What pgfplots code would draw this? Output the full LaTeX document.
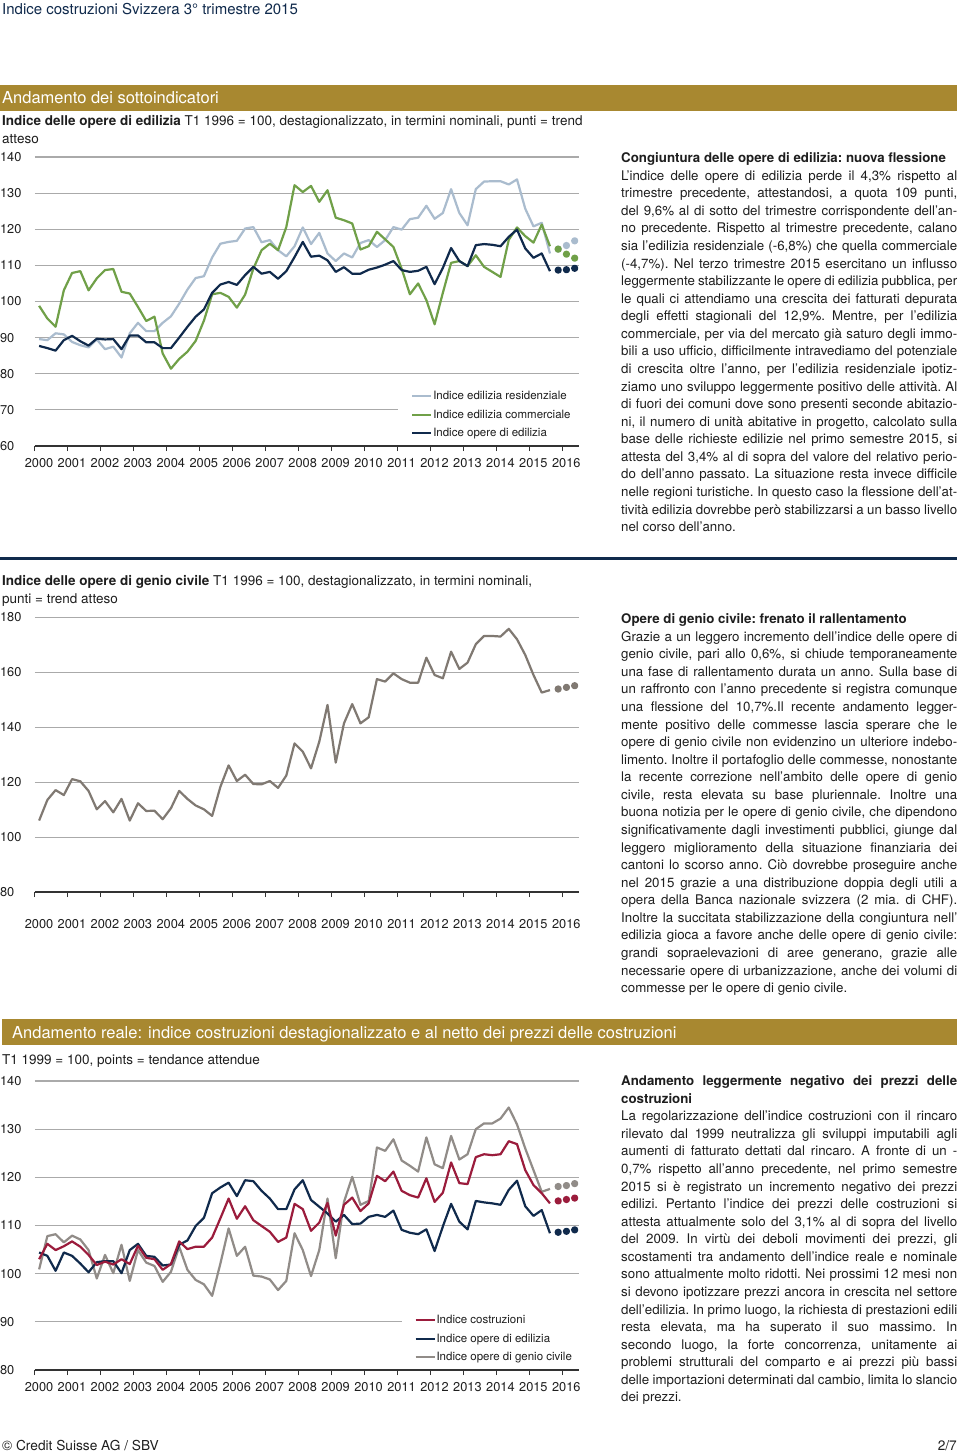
\documentclass[border=0pt]{standalone}
\usepackage{pgfplots}
\pgfplotsset{compat=1.18}
\usepackage{pgfplotstable}
\usepackage{fontspec}
\setmainfont{TeX Gyre Heros}
\definecolor{navy}{RGB}{16,42,76}
\definecolor{resi}{RGB}{170,188,206}
\definecolor{comm}{RGB}{112,160,72}
\definecolor{cred}{RGB}{155,28,60}
\definecolor{civ}{RGB}{128,121,114}
\definecolor{civb}{RGB}{145,140,136}
\definecolor{gold}{RGB}{168,136,48}
\definecolor{gridc}{RGB}{170,170,170}
\definecolor{txt}{RGB}{30,30,30}

\pgfplotstableread{
t res com edi
2000.125 89.6 98.8 87.7
2000.375 89.3 95.3 87.1
2000.625 91.2 93.0 86.4
2000.875 90.9 103.1 89.3
2001.125 88.8 107.9 90.5
2001.375 87.9 108.4 89.0
2001.625 87.3 103.1 87.8
2001.875 89.5 106.4 89.7
2002.125 86.8 108.7 89.5
2002.375 87.5 109.0 89.6
2002.625 84.5 102.7 86.8
2002.875 91.2 102.2 90.6
2003.125 94.1 98.5 90.6
2003.375 91.8 94.6 88.7
2003.625 91.8 95.8 88.7
2003.875 94.1 85.6 87.1
2004.125 95.9 81.4 87.1
2004.375 99.4 84.1 90.0
2004.625 103.3 86.1 93.0
2004.875 106.5 89.1 95.8
2005.125 107.0 94.7 97.8
2005.375 112.2 102.0 102.4
2005.625 116.0 102.4 104.7
2005.875 116.5 101.3 105.4
2006.125 116.8 98.3 104.6
2006.375 120.2 101.9 107.3
2006.625 120.6 109.1 109.6
2006.875 116.4 114.2 107.7
2007.125 117.0 116.0 108.2
2007.375 114.2 114.2 106.3
2007.625 112.5 120.6 108.4
2007.875 115.3 132.2 112.3
2008.125 120.5 130.3 116.5
2008.375 115.9 132.0 112.4
2008.625 119.0 127.6 112.7
2008.875 113.3 130.8 111.4
2009.125 111.2 123.2 108.2
2009.375 113.3 122.5 109.5
2009.625 112.2 121.6 107.7
2009.875 116.2 114.4 107.7
2010.125 117.0 115.3 108.8
2010.375 115.1 119.3 109.4
2010.625 117.0 117.2 110.2
2010.875 120.6 115.1 111.2
2011.125 119.9 109.1 108.7
2011.375 122.8 102.0 108.2
2011.625 123.2 105.0 108.5
2011.875 126.5 100.4 109.6
2012.125 122.9 93.7 104.8
2012.375 124.5 102.4 109.3
2012.625 131.1 110.7 114.8
2012.875 124.5 111.2 111.2
2013.125 121.1 109.8 109.8
2013.375 131.1 112.8 115.6
2013.625 133.2 109.6 115.9
2013.875 133.3 108.2 115.7
2014.125 133.3 106.8 115.3
2014.375 132.4 117.1 117.9
2014.625 133.8 120.5 119.9
2014.875 125.7 118.1 114.7
2015.125 120.8 116.3 112.1
2015.375 121.8 121.3 113.3
2015.625 113.3 115.3 108.4
}\tabA
\pgfplotstableread{
t res com edi
2015.875 114.5 114.5 108.7
2016.125 115.5 113.1 108.8
2016.375 116.8 112.0 109.2
}\tabAt

\pgfplotstableread{
t gen
2000.125 106.0
2000.375 113.5
2000.625 117.1
2000.875 115.3
2001.125 121.1
2001.375 120.3
2001.625 116.8
2001.875 110.1
2002.125 113.1
2002.375 109.0
2002.625 113.9
2002.875 106.0
2003.125 112.3
2003.375 109.5
2003.625 109.6
2003.875 106.5
2004.125 110.5
2004.375 116.8
2004.625 113.9
2004.875 111.5
2005.125 110.1
2005.375 107.7
2005.625 118.3
2005.875 126.1
2006.125 120.4
2006.375 122.7
2006.625 119.3
2006.875 119.2
2007.125 120.4
2007.375 117.9
2007.625 122.4
2007.875 134.1
2008.125 131.1
2008.375 125.0
2008.625 134.7
2008.875 148.1
2009.125 127.1
2009.375 141.4
2009.625 148.4
2009.875 141.4
2010.125 143.6
2010.375 157.5
2010.625 156.6
2010.875 159.6
2011.125 157.5
2011.375 156.2
2011.625 156.2
2011.875 165.3
2012.125 159.0
2012.375 157.8
2012.625 167.5
2012.875 161.2
2013.125 163.5
2013.375 170.2
2013.625 173.2
2013.875 173.2
2014.125 173.0
2014.375 175.8
2014.625 172.0
2014.875 166.3
2015.125 159.0
2015.375 152.6
2015.625 153.5
}\tabB
\pgfplotstableread{
t gen
2015.875 153.9
2016.125 154.5
2016.375 155.1
}\tabBt

\pgfplotstableread{
t cos edi gen
2000.125 103.0 104.4 100.9
2000.375 106.2 103.7 107.8
2000.625 104.9 100.6 108.2
2000.875 105.7 104.4 106.5
2001.125 106.7 103.7 107.9
2001.375 105.6 102.1 107.1
2001.625 103.9 100.3 104.9
2001.875 101.8 102.4 99.0
2002.125 102.5 102.6 103.9
2002.375 101.9 102.6 100.1
2002.625 103.0 100.1 106.0
2002.875 102.0 104.9 98.5
2003.125 105.8 106.2 104.9
2003.375 103.3 103.7 102.3
2003.625 103.0 103.5 101.6
2003.875 100.8 101.7 98.3
2004.125 102.0 101.9 100.4
2004.375 106.7 106.0 105.6
2004.625 105.1 106.9 100.8
2004.875 105.6 109.9 98.7
2005.125 105.6 111.6 97.8
2005.375 107.5 116.7 95.4
2005.625 111.5 117.9 102.1
2005.875 115.6 118.9 109.4
2006.125 111.4 116.1 103.7
2006.375 114.0 119.4 105.6
2006.625 111.1 119.2 99.6
2006.875 109.9 117.2 99.4
2007.125 108.7 115.6 98.8
2007.375 106.6 113.4 96.6
2007.625 107.5 113.4 98.5
2007.875 114.5 117.5 108.4
2008.125 113.4 119.4 104.9
2008.375 108.9 115.3 99.5
2008.625 110.6 113.9 104.9
2008.875 114.7 112.5 115.6
2009.125 107.9 110.8 103.2
2009.375 114.3 112.2 114.9
2009.625 115.8 110.3 120.1
2009.875 113.0 110.4 114.3
2010.125 114.6 111.8 115.1
2010.375 120.3 112.2 126.2
2010.625 119.2 111.8 125.5
2010.875 121.2 113.1 127.9
2011.125 117.2 109.1 123.5
2011.375 116.3 108.5 122.4
2011.625 115.8 108.2 121.2
2011.875 119.8 109.2 128.3
2012.125 114.9 104.7 122.7
2012.375 116.8 109.8 121.9
2012.625 123.1 114.5 128.6
2012.875 118.8 110.8 123.7
2013.125 118.6 109.2 124.8
2013.375 124.2 115.1 130.0
2013.625 124.8 114.8 131.2
2013.875 124.6 114.6 131.2
2014.125 124.8 114.3 132.2
2014.375 127.5 117.4 134.5
2014.625 126.9 119.3 131.0
2014.875 121.5 114.0 126.0
2015.125 118.4 112.0 121.5
2015.375 116.7 113.2 117.0
2015.625 114.6 108.4 117.6
}\tabC
\pgfplotstableread{
t cos edi gen
2015.875 115.1 108.6 118.1
2016.125 115.4 108.8 118.3
2016.375 115.7 109.1 118.7
}\tabCt

\pgfplotsset{
  csaxis/.style={
    scale only axis,
    width=543.8pt,
    xmin=2000, xmax=2016.5,
    xtick={2000,2001,...,2016},
    axis x line=bottom,
    axis y line=left,
    x axis line style={-, draw=black!80, line width=1.3pt},
    y axis line style={draw=none},
    xtick align=outside,
    xtick style={draw=black!80, line width=1pt},
    major tick length=5pt,
    ytick style={draw=none},
    ymajorgrids,
    grid style={draw=gridc, line width=1.1pt},
    tick label style={font=\fontsize{12.8}{14}\selectfont, text=txt},
    xticklabel style={/pgf/number format/1000 sep={}, xshift=4pt, yshift=-4pt},
    yticklabel style={anchor=west, xshift=-36pt},
    /pgf/number format/assume math mode=true,
    every axis plot/.append style={line width=2.2pt, line join=round},
    legend style={draw=none, fill=white, font=\fontsize{11.5}{13}\selectfont, text=txt,
      inner xsep=13pt, inner ysep=2pt, row sep=7pt, nodes={inner sep=0.8pt}},
    legend cell align=left,
    legend image code/.code={\draw[#1, line width=2pt] (0pt,0pt) -- (19pt,0pt);},
  },
  dots/.style={forget plot, only marks, mark=*, mark size=2.5pt},
}

\newcommand{\bodyset}{\frenchspacing\tolerance=9999\hyphenpenalty=10000\spaceskip=0.278em plus 0.3em minus 0.1em\relax}

\begin{document}
\begin{tikzpicture}
\fill[white] (0pt,0pt) rectangle (960pt,-1453pt);
% header
\node[anchor=base west, inner sep=0pt, font=\fontsize{15}{18}\selectfont, text=navy] at (2pt,-14.5pt) {Indice costruzioni Svizzera 3° trimestre 2015};
% band 1
\fill[gold] (0pt,-85pt) rectangle (957pt,-111pt);
\node[anchor=base west, inner sep=0pt, font=\fontsize{16.5}{18}\selectfont, text=white] at (2pt,-104pt) {Andamento dei sottoindicatori};
\node[anchor=base west, inner sep=0pt, font=\fontsize{13.5}{16}\selectfont, text=txt] at (2pt,-125.7pt) {\textbf{Indice delle opere di edilizia} T1 1996 = 100, destagionalizzato, in termini nominali, punti = trend};
\node[anchor=base west, inner sep=0pt, font=\fontsize{13.5}{16}\selectfont, text=txt] at (2pt,-143.3pt) {atteso};

% chart 1
\begin{axis}[csaxis, at={(35pt,-446pt)}, anchor=south west, height=289pt,
  ymin=60, ymax=140, ytick={60,70,...,140},
  legend style={at={(0.668,0.2)}, anchor=north west}]
\addplot[resi] table[x=t,y=res]{\tabA};
\addlegendentry{Indice edilizia residenziale}
\addplot[comm] table[x=t,y=com]{\tabA};
\addlegendentry{Indice edilizia commerciale}
\addplot[navy] table[x=t,y=edi]{\tabA};
\addlegendentry{Indice opere di edilizia}
\addplot[dots, resi] table[x=t,y=res]{\tabAt};
\addplot[dots, comm] table[x=t,y=com]{\tabAt};
\addplot[dots, navy] table[x=t,y=edi]{\tabAt};
\end{axis}

% text block 1
\node[anchor=base west, inner sep=0pt, text width=336pt, align=justify, text=txt,
  font=\fontsize{13.3}{17.57}\selectfont] at (621pt,-162.7pt) {\bodyset
{\bfseries Congiuntura delle opere di edilizia: nuova flessione}\\
L'indice delle opere di edilizia perde il 4,3\% rispetto al \linebreak
trimestre precedente, attestandosi, a quota 109 punti, \linebreak
del 9,6\% al di sotto del trimestre corrispondente dell'an-\linebreak
no precedente. Rispetto al trimestre precedente, calano \linebreak
sia l'edilizia residenziale (-6,8\%) che quella commerciale \linebreak
(-4,7\%). Nel terzo trimestre 2015 esercitano un influsso \linebreak
leggermente stabilizzante le opere di edilizia pubblica, per \linebreak
le quali ci attendiamo una crescita dei fatturati depurata \linebreak
degli effetti stagionali del 12,9\%. Mentre, per l'edilizia \linebreak
commerciale, per via del mercato già saturo degli immo-\linebreak
bili a uso ufficio, difficilmente intravediamo del potenziale \linebreak
di crescita oltre l'anno, per l'edilizia residenziale ipotiz-\linebreak
ziamo uno sviluppo leggermente positivo delle attività. Al \linebreak
di fuori dei comuni dove sono presenti seconde abitazio-\linebreak
ni, il numero di unità abitative in progetto, calcolato sulla \linebreak
base delle richieste edilizie nel primo semestre 2015, si \linebreak
attesta del 3,4\% al di sopra del valore del relativo perio-\linebreak
do dell'anno passato. La situazione resta invece difficile \linebreak
nelle regioni turistiche. In questo caso la flessione dell'at-\linebreak
tività edilizia dovrebbe però stabilizzarsi a un basso livello \linebreak
nel corso dell'anno.};

% navy rule
\fill[navy] (0pt,-557pt) rectangle (957pt,-560pt);
\node[anchor=base west, inner sep=0pt, font=\fontsize{13.5}{16}\selectfont, text=txt] at (2pt,-585.7pt) {\textbf{Indice delle opere di genio civile} T1 1996 = 100, destagionalizzato, in termini nominali,};
\node[anchor=base west, inner sep=0pt, font=\fontsize{13.5}{16}\selectfont, text=txt] at (2pt,-603.3pt) {punti = trend atteso};

% chart 2
\begin{axis}[csaxis, at={(35pt,-892pt)}, anchor=south west, height=274.7pt,
  ymin=80, ymax=180, ytick={80,100,...,180}, xticklabel style={yshift=-15pt}]
\addplot[civ] table[x=t,y=gen]{\tabB};
\addplot[dots, civ] table[x=t,y=gen]{\tabBt};
\end{axis}

% text block 2
\node[anchor=base west, inner sep=0pt, text width=336pt, align=justify, text=txt,
  font=\fontsize{13.3}{17.57}\selectfont] at (621pt,-623.7pt) {\bodyset
{\bfseries Opere di genio civile: frenato il rallentamento}\\
Grazie a un leggero incremento dell'indice delle opere di \linebreak
genio civile, pari allo 0,6\%, si chiude temporaneamente \linebreak
una fase di rallentamento durata un anno. Sulla base di \linebreak
un raffronto con l'anno precedente si registra comunque \linebreak
una flessione del 10,7\%.Il recente andamento legger-\linebreak
mente positivo delle commesse lascia sperare che le \linebreak
opere di genio civile non evidenzino un ulteriore indebo-\linebreak
limento. Inoltre il portafoglio delle commesse, nonostante \linebreak
la recente correzione nell'ambito delle opere di genio \linebreak
civile, resta elevata su base pluriennale. Inoltre una \linebreak
buona notizia per le opere di genio civile, che dipendono \linebreak
significativamente dagli investimenti pubblici, giunge dal \linebreak
leggero miglioramento della situazione finanziaria dei \linebreak
cantoni lo scorso anno. Ciò dovrebbe proseguire anche \linebreak
nel 2015 grazie a una distribuzione doppia degli utili a \linebreak
opera della Banca nazionale svizzera (2 mia. di CHF). \linebreak
Inoltre la succitata stabilizzazione della congiuntura nell'\linebreak
edilizia gioca a favore anche delle opere di genio civile: \linebreak
grandi sopraelevazioni di aree generano, grazie alle \linebreak
necessarie opere di urbanizzazione, anche dei volumi di \linebreak
commesse per le opere di genio civile.};

% band 3
\fill[gold] (2pt,-1019pt) rectangle (957pt,-1045pt);
\node[anchor=base west, inner sep=0pt, font=\fontsize{16.5}{18}\selectfont, text=white] at (12pt,-1038pt) {Andamento reale: indice costruzioni destagionalizzato e al netto dei prezzi delle costruzioni};
\node[anchor=base west, inner sep=0pt, font=\fontsize{13.5}{16}\selectfont, text=txt] at (2pt,-1064.7pt) {T1 1999 = 100, points = tendance attendue};

% chart 3
\begin{axis}[csaxis, at={(35pt,-1370pt)}, anchor=south west, height=289pt,
  ymin=80, ymax=140, ytick={80,90,...,140}, reverse legend,
  legend style={at={(0.674,0.2)}, anchor=north west}]
\addplot[civb] table[x=t,y=gen]{\tabC};
\addlegendentry{Indice opere di genio civile}
\addplot[navy] table[x=t,y=edi]{\tabC};
\addlegendentry{Indice opere di edilizia}
\addplot[cred] table[x=t,y=cos]{\tabC};
\addlegendentry{Indice costruzioni}
\addplot[dots, civb] table[x=t,y=gen]{\tabCt};
\addplot[dots, navy] table[x=t,y=edi]{\tabCt};
\addplot[dots, cred] table[x=t,y=cos]{\tabCt};
\end{axis}

% text block 3
\node[anchor=base west, inner sep=0pt, text width=336pt, align=justify, text=txt,
  font=\fontsize{13.3}{17.57}\selectfont] at (621pt,-1085.7pt) {\bodyset
{\bfseries Andamento leggermente negativo dei prezzi delle \linebreak costruzioni}\\
La regolarizzazione dell'indice costruzioni con il rincaro \linebreak
rilevato dal 1999 neutralizza gli sviluppi imputabili agli \linebreak
aumenti di fatturato dettati dal rincaro. A fronte di un -\linebreak
0,7\% rispetto all'anno precedente, nel primo semestre \linebreak
2015 si è registrato un incremento negativo dei prezzi \linebreak
edilizi. Pertanto l'indice dei prezzi delle costruzioni si \linebreak
attesta attualmente solo del 3,1\% al di sopra del livello \linebreak
del 2009. In virtù dei deboli movimenti dei prezzi, gli \linebreak
scostamenti tra andamento dell'indice reale e nominale \linebreak
sono attualmente molto ridotti. Nei prossimi 12 mesi non \linebreak
si devono ipotizzare prezzi ancora in crescita nel settore \linebreak
dell'edilizia. In primo luogo, la richiesta di prestazioni edili \linebreak
resta elevata, ma ha superato il suo massimo. In \linebreak
secondo luogo, la forte concorrenza, unitamente ai \linebreak
problemi strutturali del comparto e ai prezzi più bassi \linebreak
delle importazioni determinati dal cambio, limita lo slancio \linebreak
dei prezzi.};

% footer
\node[anchor=base west, inner sep=0pt, font=\fontsize{13.7}{16}\selectfont, text=txt] at (2pt,-1450pt) {© Credit Suisse AG / SBV};
\node[anchor=base east, inner sep=0pt, font=\fontsize{13.7}{16}\selectfont, text=txt] at (957pt,-1450pt) {2/7};

\pgfresetboundingbox
\useasboundingbox (0pt,0pt) rectangle (960pt,-1453pt);
\end{tikzpicture}
\end{document}
